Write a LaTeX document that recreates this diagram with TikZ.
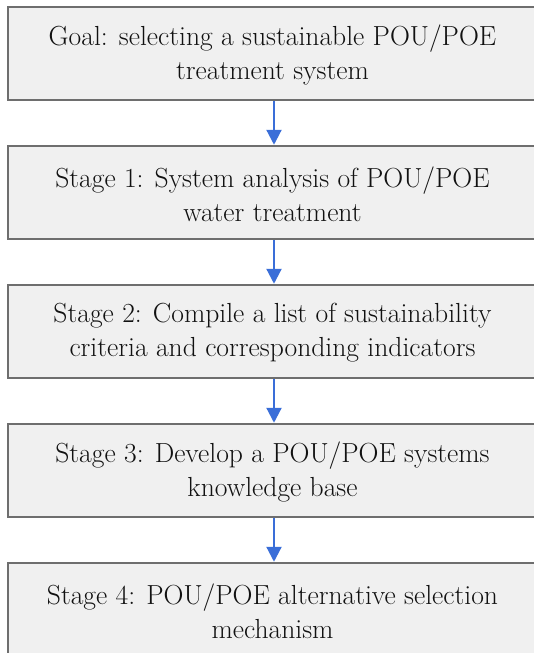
\documentclass[tikz,border=0pt]{standalone}
\usepackage{fontspec}
\setmainfont{Latin Modern Roman}
\usetikzlibrary{arrows.meta}
\definecolor{boxfill}{HTML}{F0F0F0}
\definecolor{boxline}{HTML}{6E6E6E}
\definecolor{arrblue}{HTML}{3A6ED8}
\definecolor{txt}{HTML}{111111}
\begin{document}
\begin{tikzpicture}[x=1pt,y=-1pt,
  stagebox/.style={draw=boxline, line width=1.5pt, fill=boxfill, minimum width=532.5pt, minimum height=93pt, inner sep=0pt},
  stagetext/.style={text=txt, align=center, inner sep=0pt, font=\fontsize{27.6}{34}\selectfont},
  flow/.style={draw=arrblue, line width=2.2pt, -{Triangle[width=15pt,length=15pt]}, shorten >=0.5pt}]
\useasboundingbox (0,0) rectangle (534,653);
\clip (0,0) rectangle (534,653);
\node[stagebox] (b1) at (274,53.5) {};
\node[stagebox] (b2) at (274,192.5) {};
\node[stagebox] (b3) at (274,331.5) {};
\node[stagebox] (b4) at (274,470.5) {};
\node[stagebox] (b5) at (274,609.5) {};
\node[stagetext] (t1) at (272.5,55) {Goal: selecting a sustainable POU/POE\\treatment system};
\node[stagetext] (t2) at (272.5,194) {Stage 1: System analysis of POU/POE\\water treatment};
\node[stagetext] (t3) at (272.5,333) {Stage 2: Compile a list of sustainability\\criteria and corresponding indicators};
\node[stagetext] (t4) at (272.5,472) {Stage 3: Develop a POU/POE systems\\knowledge base};
\node[stagetext] (t5) at (272.5,611) {Stage 4: POU/POE alternative selection\\mechanism};
\draw[flow] (b1.south) -- (b2.north);
\draw[flow] (b2.south) -- (b3.north);
\draw[flow] (b3.south) -- (b4.north);
\draw[flow] (b4.south) -- (b5.north);
\end{tikzpicture}
\end{document}
